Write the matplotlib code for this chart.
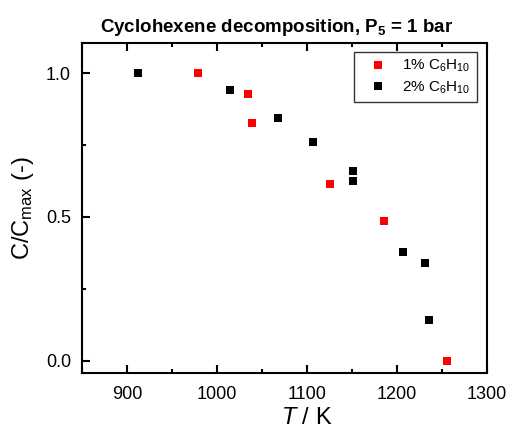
import numpy as np
import matplotlib
matplotlib.use("Agg")
import matplotlib.pyplot as plt
from matplotlib.ticker import MultipleLocator

plt.rcParams['font.family'] = ['Liberation Sans', 'DejaVu Sans']
plt.rcParams['mathtext.fontset'] = 'custom'
plt.rcParams['mathtext.rm'] = 'Liberation Sans'
plt.rcParams['mathtext.it'] = 'Liberation Sans:italic'
plt.rcParams['mathtext.bf'] = 'Liberation Sans:bold'

# 1% C6H10
t_1pct = [979, 1034, 1039, 1126, 1185, 1255]
c_1pct = [1.0, 0.926, 0.828, 0.615, 0.486, 0.0]

# 2% C6H10
t_2pct = [912, 1014, 1068, 1107, 1151, 1151, 1207, 1231, 1236]
c_2pct = [1.0, 0.941, 0.845, 0.761, 0.661, 0.625, 0.376, 0.340, 0.142]

fig = plt.figure(figsize=(5.1, 4.28), dpi=100)
ax = fig.add_axes([0.161, 0.128, 0.794, 0.771])

ax.plot(t_1pct, c_1pct, 's', color='#ff0000', markersize=6, markeredgewidth=0,
        label='1% C$_6$H$_{10}$')
ax.plot(t_2pct, c_2pct, 's', color='black', markersize=6, markeredgewidth=0,
        label='2% C$_6$H$_{10}$')

ax.set_xlim(850, 1300)
ax.set_ylim(-0.044, 1.104)
ax.xaxis.set_major_locator(MultipleLocator(100))
ax.xaxis.set_minor_locator(MultipleLocator(50))
ax.yaxis.set_major_locator(MultipleLocator(0.5))
ax.yaxis.set_minor_locator(MultipleLocator(0.25))
ax.yaxis.set_major_formatter(matplotlib.ticker.FormatStrFormatter('%.1f'))

ax.tick_params(which='both', direction='in', top=True, right=False, labelsize=13, width=1.5)
ax.tick_params(which='major', length=6)
ax.tick_params(which='minor', length=3)
ax.tick_params(axis='x', which='major', pad=9)
ax.tick_params(axis='y', which='major', pad=8)
for s in ax.spines.values():
    s.set_linewidth(1.5)

ax.set_xlabel('$T$ / K', fontsize=17)
ax.xaxis.set_label_coords(0.556, -0.102)
ax.set_ylabel('C/C$_{\\mathrm{max}}$ (-)', fontsize=17, labelpad=7)
ax.set_title('Cyclohexene decomposition, P$_\\mathbf{5}$ = 1 bar', fontsize=13.5,
             fontweight='bold', pad=8, x=0.48)

leg = ax.legend(loc='upper right', fontsize=11, frameon=True, fancybox=False,
                edgecolor='black', borderpad=0.4, labelspacing=0.35,
                handlelength=2.4, handletextpad=0.4, borderaxespad=0,
                bbox_to_anchor=(0.975, 0.974))
leg.get_frame().set_linewidth(1.0)

fig.savefig('out.png', dpi=100)
